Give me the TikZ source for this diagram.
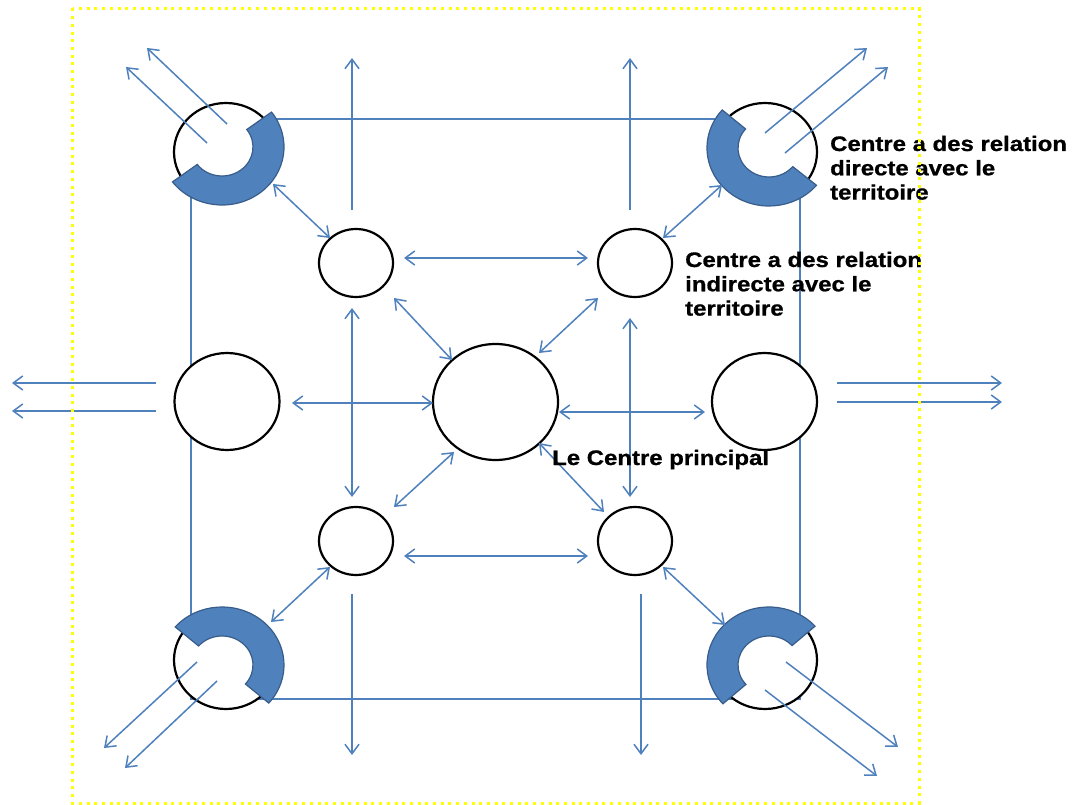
\documentclass[tikz,border=0pt]{standalone}
\usepackage{fontspec}
\newfontfamily\lab{Liberation Sans}[FakeStretch=1.14,FakeBold=0.8]
\usetikzlibrary{arrows.meta,shapes.geometric,calc}
\definecolor{lnk}{HTML}{4F81BD}
\definecolor{ringfill}{HTML}{4F81BD}
\definecolor{ringedge}{HTML}{385D8A}
\definecolor{brd}{HTML}{FFFF00}
\begin{document}
\begin{tikzpicture}[x=1pt,y=-1pt,
  tip/.tip={Straight Barb[length=9.5pt,width=14pt]},
  link/.style={draw=lnk, line width=1.5pt, -tip},
  dlink/.style={draw=lnk, line width=1.5pt, tip-tip},
  frame/.style={draw=lnk, line width=1.5pt},
  disc/.style={ellipse, draw=black, line width=2.2pt, fill=white, inner sep=0pt},
  corner/.style={disc, minimum width=104pt, minimum height=98pt},
  mid/.style={disc, minimum width=105pt, minimum height=97pt},
  small/.style={disc, minimum width=74pt, minimum height=68pt},
  main/.style={disc, minimum width=125pt, minimum height=116pt},
  ring/.style={fill=ringfill, draw=ringedge, line width=1.2pt},
  lbl/.style={font=\lab\bfseries\fontsize{21}{24.3}\selectfont, align=left, inner sep=0pt, anchor=base west},
  border/.style={draw=brd, line width=3pt, dash pattern=on 3pt off 4.7pt}
]
\useasboundingbox (0,0) rectangle (1072,805);
\fill[white] (0,0) rectangle (1072,805);

% outer square (behind the circles)
\coordinate (sq1) at (191,119);
\coordinate (sq2) at (800,119);
\coordinate (sq3) at (800,699);
\coordinate (sq4) at (191,699);
\draw[frame] (sq1) -- (sq2) -- (sq3) -- (sq4) -- cycle;

% circles
\node[corner] (k1) at (226,152) {};
\node[corner] (k2) at (765,152) {};
\node[corner] (k3) at (226,660) {};
\node[corner] (k4) at (765,660) {};
\node[mid] (ml) at (227,401.5) {};
\node[mid] (mr) at (764.5,401.5) {};
\node[main] (c) at (495.5,402) {};
\node[small] (s1) at (356,263) {};
\node[small] (s2) at (635,263) {};
\node[small] (s3) at (356,541) {};
\node[small] (s4) at (635,541) {};

% half rings on the corner circles
\foreach \cx/\cy/\a/\b in {222/147/-37/143, 769/148/40/221, 222/665/-139/41, 769/665/-222/-42}{
  \path[ring] (\cx,\cy) ++(\a:62 and 58)
    arc[start angle=\a, end angle=\b, x radius=62, y radius=58]
    -- ({\cx+31*cos(\b)},{\cy+29*sin(\b)})
    arc[start angle=\b, end angle=\a, x radius=31, y radius=29] -- cycle;
}

% outward arrows
\foreach \n/\xa/\ya/\xb/\yb in {
  o1/227/124/147/48, o2/207/143/126/67,
  o3/765/133/867/48, o4/785/153/888/67,
  o5/197/662/104/748, o6/217/681/125/768,
  o7/786/662/898/747, o8/765/690/877/776,
  o9/156/383/12/383, o10/156/411/12/411,
  o11/837/383/1002/383, o12/837/402/1002/402,
  o13/352/210/352/58, o14/630/210/630/58,
  o15/352/594/352/755, o16/641/594/641/755}{
  \coordinate (\n a) at (\xa,\ya);
  \coordinate (\n b) at (\xb,\yb);
  \draw[link] (\n a) -- (\n b);
}

% two-way links
\foreach \n/\xa/\ya/\xb/\yb in {
  d1/404/258/588/258, d2/404/556/588/556,
  d3/352/308/352/497, d4/630/318/630/497,
  d5/394/298/452/360, d6/598/298/539/353,
  d7/394/507/454/452, d8/604/512/539/443,
  d9/292/403/433/403, d10/559/412/705/412,
  d11/273/184/330/238, d12/722/185/663/238,
  d13/271/622/330/567, d14/725/625/663/567}{
  \coordinate (\n a) at (\xa,\ya);
  \coordinate (\n b) at (\xb,\yb);
  \draw[dlink] (\n a) -- (\n b);
}

% labels (base anchor = baseline of the last line)
\node[lbl] (t1) at (830,199.6) {Centre a des relation\\directe avec le\\territoire};
\node[lbl] (t2) at (685,315.6) {Centre a des relation\\indirecte avec le\\territoire};
\node[lbl] (t3) at (552,465) {Le Centre principal};

% dotted frame
\draw[border] (72.5,8.5) rectangle (919,803);
\end{tikzpicture}
\end{document}
